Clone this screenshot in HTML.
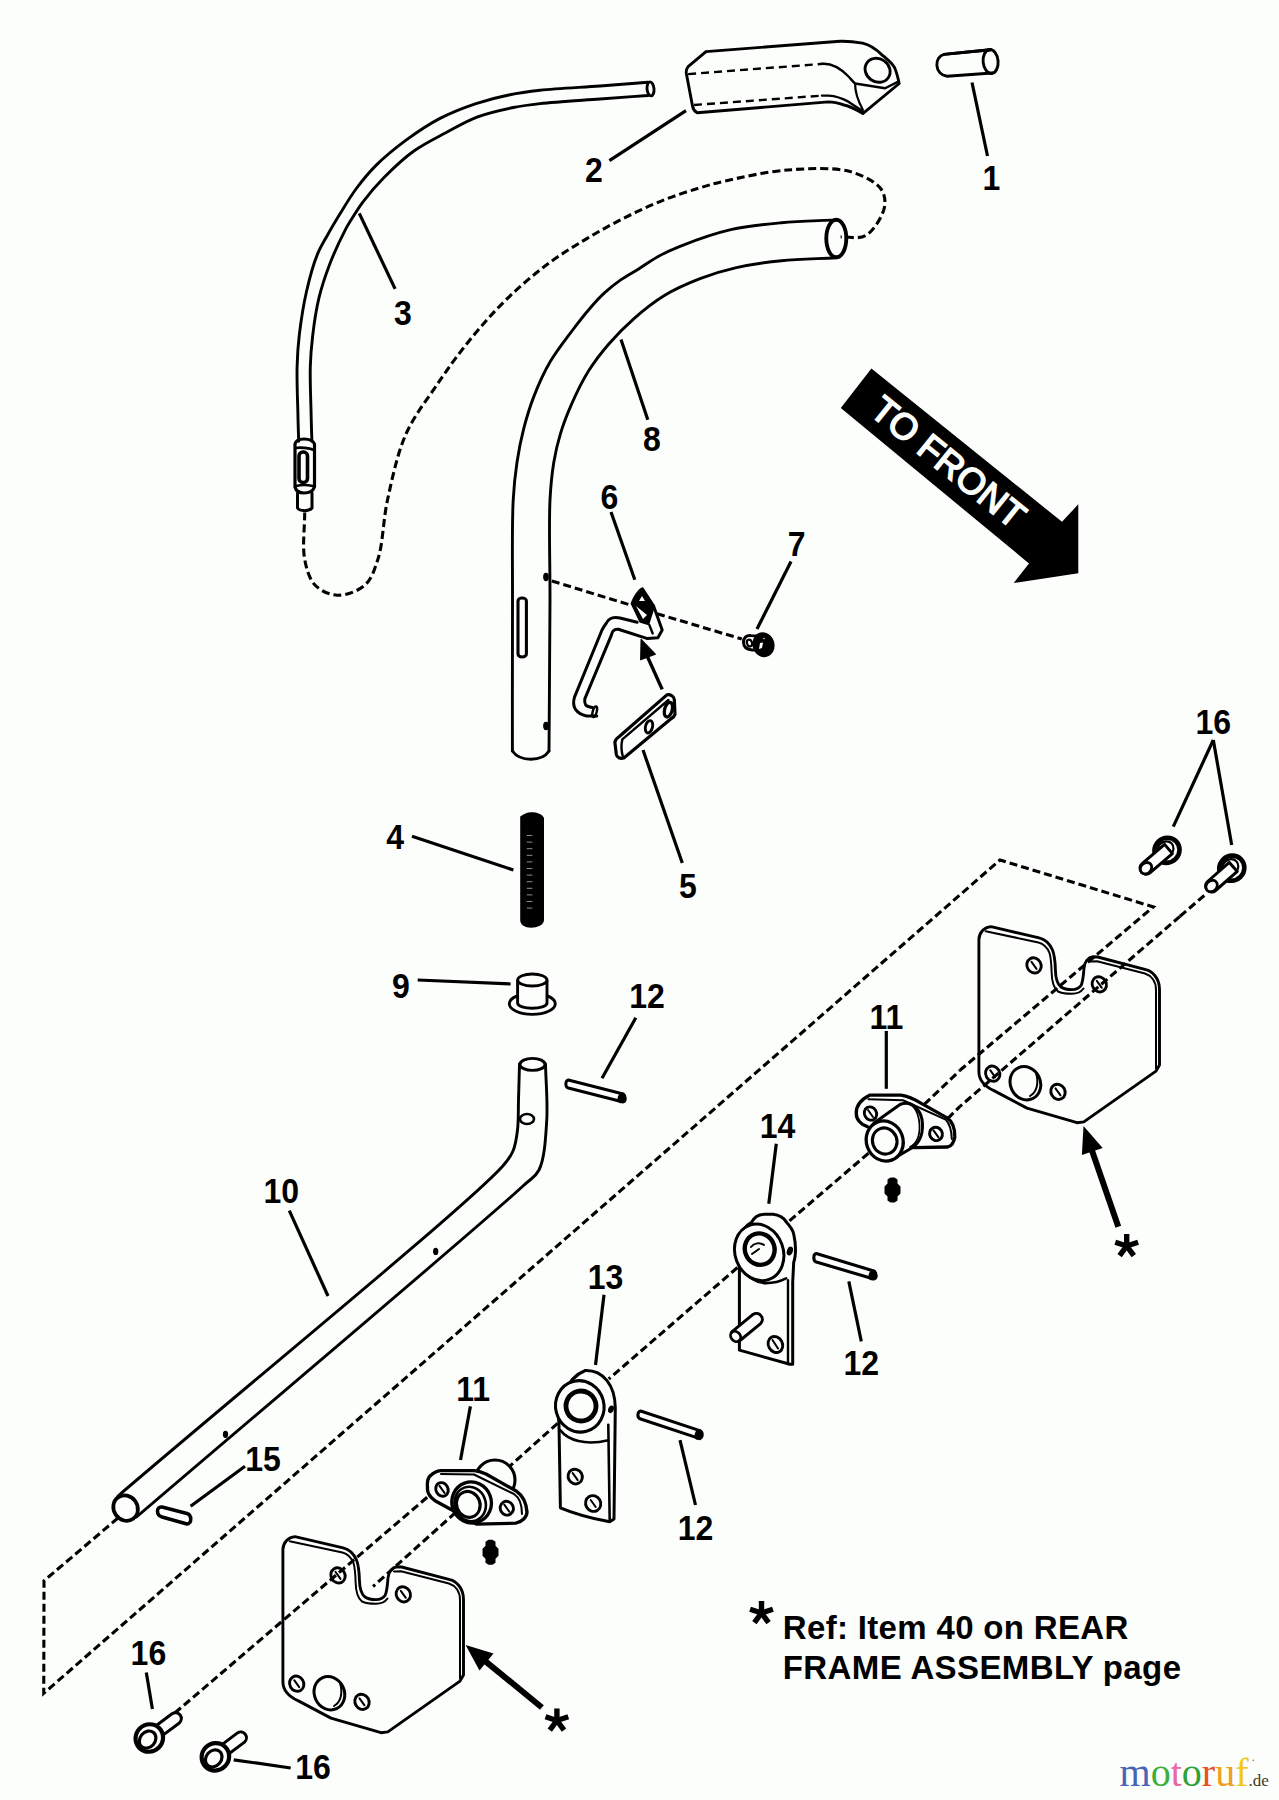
<!DOCTYPE html>
<html><head><meta charset="utf-8"><style>
html,body{margin:0;padding:0;background:#fcfefc;}
body{width:1279px;height:1800px;overflow:hidden;}
svg{display:block;font-family:"Liberation Sans",sans-serif;}
</style></head><body>
<svg width="1279" height="1800" viewBox="0 0 1279 1800">
<text x="0" y="0" font-size="32" text-anchor="middle" font-weight="bold" transform="translate(991.3 190) scale(1 1.09)">1</text>
<text x="0" y="0" font-size="32" text-anchor="middle" font-weight="bold" transform="translate(594 182.2) scale(1 1.09)">2</text>
<text x="0" y="0" font-size="32" text-anchor="middle" font-weight="bold" transform="translate(402.9 324.7) scale(1 1.09)">3</text>
<text x="0" y="0" font-size="32" text-anchor="middle" font-weight="bold" transform="translate(395.2 848.8) scale(1 1.09)">4</text>
<text x="0" y="0" font-size="32" text-anchor="middle" font-weight="bold" transform="translate(688 898) scale(1 1.09)">5</text>
<text x="0" y="0" font-size="32" text-anchor="middle" font-weight="bold" transform="translate(609.5 509.2) scale(1 1.09)">6</text>
<text x="0" y="0" font-size="32" text-anchor="middle" font-weight="bold" transform="translate(796.6 555.5) scale(1 1.09)">7</text>
<text x="0" y="0" font-size="32" text-anchor="middle" font-weight="bold" transform="translate(652 450.5) scale(1 1.09)">8</text>
<text x="0" y="0" font-size="32" text-anchor="middle" font-weight="bold" transform="translate(400.8 998) scale(1 1.09)">9</text>
<text x="0" y="0" font-size="32" text-anchor="middle" font-weight="bold" transform="translate(281.2 1202.9) scale(1 1.09)">10</text>
<text x="0" y="0" font-size="32" text-anchor="middle" font-weight="bold" transform="translate(886.3 1028.8) scale(1 1.09)">11</text>
<text x="0" y="0" font-size="32" text-anchor="middle" font-weight="bold" transform="translate(473.2 1400.5) scale(1 1.09)">11</text>
<text x="0" y="0" font-size="32" text-anchor="middle" font-weight="bold" transform="translate(647 1007.8) scale(1 1.09)">12</text>
<text x="0" y="0" font-size="32" text-anchor="middle" font-weight="bold" transform="translate(861.3 1375) scale(1 1.09)">12</text>
<text x="0" y="0" font-size="32" text-anchor="middle" font-weight="bold" transform="translate(695.5 1540) scale(1 1.09)">12</text>
<text x="0" y="0" font-size="32" text-anchor="middle" font-weight="bold" transform="translate(605.6 1288.8) scale(1 1.09)">13</text>
<text x="0" y="0" font-size="32" text-anchor="middle" font-weight="bold" transform="translate(777.5 1137.5) scale(1 1.09)">14</text>
<text x="0" y="0" font-size="32" text-anchor="middle" font-weight="bold" transform="translate(263 1471.2) scale(1 1.09)">15</text>
<text x="0" y="0" font-size="32" text-anchor="middle" font-weight="bold" transform="translate(1213.3 734.2) scale(1 1.09)">16</text>
<text x="0" y="0" font-size="32" text-anchor="middle" font-weight="bold" transform="translate(148.4 1664.5) scale(1 1.09)">16</text>
<text x="0" y="0" font-size="32" text-anchor="middle" font-weight="bold" transform="translate(313 1778.5) scale(1 1.09)">16</text>
<line x1="972" y1="82.5" x2="987.5" y2="156" stroke="#000" stroke-width="3.2" stroke-linecap="butt"/>
<line x1="686" y1="110.6" x2="609.4" y2="160.6" stroke="#000" stroke-width="3.2" stroke-linecap="butt"/>
<line x1="359.3" y1="213.4" x2="395.1" y2="288.9" stroke="#000" stroke-width="3.2" stroke-linecap="butt"/>
<line x1="412" y1="836.3" x2="513.4" y2="870" stroke="#000" stroke-width="3.2" stroke-linecap="butt"/>
<line x1="643" y1="750" x2="682.3" y2="863" stroke="#000" stroke-width="3.2" stroke-linecap="butt"/>
<line x1="611" y1="512" x2="634.8" y2="579.8" stroke="#000" stroke-width="3.2" stroke-linecap="butt"/>
<line x1="757" y1="629" x2="791" y2="561.5" stroke="#000" stroke-width="3.2" stroke-linecap="butt"/>
<line x1="621" y1="339.5" x2="647.8" y2="419.7" stroke="#000" stroke-width="3.2" stroke-linecap="butt"/>
<line x1="417.7" y1="980" x2="510.6" y2="984" stroke="#000" stroke-width="3.2" stroke-linecap="butt"/>
<line x1="289.3" y1="1210.7" x2="328" y2="1296" stroke="#000" stroke-width="3.2" stroke-linecap="butt"/>
<line x1="886.3" y1="1031" x2="886.3" y2="1088.8" stroke="#000" stroke-width="3.2" stroke-linecap="butt"/>
<line x1="470.4" y1="1406.4" x2="460.5" y2="1460" stroke="#000" stroke-width="3.2" stroke-linecap="butt"/>
<line x1="635.8" y1="1017.8" x2="602" y2="1078.3" stroke="#000" stroke-width="3.2" stroke-linecap="butt"/>
<line x1="848.8" y1="1281.3" x2="861.3" y2="1341.3" stroke="#000" stroke-width="3.2" stroke-linecap="butt"/>
<line x1="680" y1="1440.2" x2="695.5" y2="1505" stroke="#000" stroke-width="3.2" stroke-linecap="butt"/>
<line x1="604" y1="1294.7" x2="595.5" y2="1365" stroke="#000" stroke-width="3.2" stroke-linecap="butt"/>
<line x1="776.3" y1="1143.8" x2="768.8" y2="1203.8" stroke="#000" stroke-width="3.2" stroke-linecap="butt"/>
<line x1="245" y1="1466.3" x2="190.6" y2="1506.3" stroke="#000" stroke-width="3.2" stroke-linecap="butt"/>
<line x1="1213.3" y1="740" x2="1173.3" y2="826.7" stroke="#000" stroke-width="3.2" stroke-linecap="butt"/>
<line x1="1213.3" y1="740" x2="1231.7" y2="845" stroke="#000" stroke-width="3.2" stroke-linecap="butt"/>
<line x1="146.3" y1="1672.4" x2="152.4" y2="1709" stroke="#000" stroke-width="3.2" stroke-linecap="butt"/>
<line x1="233.7" y1="1759.8" x2="290.7" y2="1768" stroke="#000" stroke-width="3.2" stroke-linecap="butt"/>
<path d="M944,54.4 C959.5,52.8 975.1,51.3 990.6,49.7" fill="none" stroke="#000" stroke-width="2.9" stroke-linejoin="round" stroke-linecap="round" />
<path d="M944,54.4 L990.6,49.7 M947,76.3 L992,73 M944,54.4 C934,57 934,74 947,76.3" fill="none" stroke="#000" stroke-width="2.9" stroke-linejoin="round" stroke-linecap="round" />
<ellipse cx="990.6" cy="61.5" rx="7.5" ry="12" transform="rotate(-5 990.6 61.5)" fill="none" stroke="#000" stroke-width="2.9"/>
<path d="M706,51.6 L840.1,41.3 C850,41 856,42 862.6,43.1 C870,45 876,49 881.4,54.4 C888,60 892,63 894.5,67.5 C897,73 898,78 899.2,83.5 L862.8,113.6 C857,110 850,106 844,105 C838,103 834,102 828.4,101.9 L697.2,112.8 C694,111 693,109 692.5,106 L686.3,73.2 C686,70 687,68 688.1,66.6 Z" fill="none" stroke="#000" stroke-width="2.9" stroke-linejoin="round" stroke-linecap="round" />
<path d="M688.1,74.1 L823.2,63.8" fill="none" stroke="#000" stroke-width="2.4" stroke-dasharray="8 5"/>
<path d="M823.2,63.8 C832,63.5 840,68 848,76 C851,79 853,82 855.1,83.5 L885.1,88.2 L898.3,81.6" fill="none" stroke="#000" stroke-width="2.4" stroke-linejoin="round" stroke-linecap="round" />
<path d="M694,105 L822,95.6" fill="none" stroke="#000" stroke-width="2.4" stroke-dasharray="8 5"/>
<path d="M822,95.6 L828.4,95.6 C836,96 842,98 848.75,101.9 L862.8,111.25" fill="none" stroke="#000" stroke-width="2.4" stroke-linejoin="round" stroke-linecap="round" />
<path d="M855.1,83.5 C855,90 856,97 862.8,109.7" fill="none" stroke="#000" stroke-width="2.2" stroke-linejoin="round" stroke-linecap="round" />
<ellipse cx="877.6" cy="70.3" rx="13" ry="11.5" transform="rotate(35 877.6 70.3)" fill="none" stroke="#000" stroke-width="2.9"/>
<path d="M648,82.2 C632,83.5 616.9,84.7 600,86 C581.1,87.4 556.7,88.4 540,90.3 C527.9,91.6 519.3,92.8 508.8,95 C497.9,97.2 487.1,99.9 476,103.6 C464.1,107.6 451.6,112.4 440,118.4 C428.1,124.6 416.5,132.5 405.7,140.4 C395.2,148.2 384.6,156.8 376,165.4 C368.3,173.1 362.1,180.8 356,189 C350.1,197 345,205.7 340,213.8 C335.4,221.4 330.9,228.9 327,236 C323.4,242.4 320.3,247.2 317.3,254.6 C313.2,264.7 309.3,279.1 306.4,292 C303.3,305.5 301,320.9 299.4,334 C298,345.5 297.4,354.8 297.1,366.6 C296.7,380.8 297.6,399.7 297.9,413.3 C298.1,423.8 298.4,432 298.7,441.3" fill="none" stroke="#000" stroke-width="2.9" stroke-linejoin="round" stroke-linecap="round" />
<path d="M648,95.5 C632,96.7 616.9,97.7 600,99 C581.1,100.4 556,101.8 540,103.6 C529.3,104.8 522.9,105.6 513.4,107.5 C502.3,109.8 488.9,112.6 477.6,116.9 C466.6,121 456.8,126.9 446.3,132.5 C435.4,138.3 423.8,143.9 413.5,151.3 C402.9,158.9 392.5,169 383.8,177.8 C376.1,185.6 369.2,193.7 363.4,201.3 C358.5,207.7 354.3,214.7 351,220 C348.7,223.8 347.5,225.5 345.3,229.8 C341.2,237.7 334.2,252.5 329.8,264 C325.5,275.3 321.7,286.4 318.9,298.2 C316,310.3 314.1,323.6 312.7,335.5 C311.4,346.3 310.6,355.2 310.3,366.6 C309.9,380.6 310.8,399.7 311.1,413.3 C311.3,423.8 311.6,432 311.9,441.3" fill="none" stroke="#000" stroke-width="2.9" stroke-linejoin="round" stroke-linecap="round" />
<ellipse cx="650.5" cy="88.9" rx="3.5" ry="7" transform="rotate(-5 650.5 88.9)" fill="none" stroke="#000" stroke-width="2.9"/>
<path d="M295,444 C296,440 300,439 304,439 C309,439 313,440 314.5,444 L314.5,487 C313,491 309,493 304,493 C299,493 296,491 295,487 Z" fill="none" stroke="#000" stroke-width="3.2" stroke-linejoin="round" stroke-linecap="round" />
<path d="M295.5,448 C300,447 309,448 314,450 M296,486 C300,485 308,485 313,486" fill="none" stroke="#000" stroke-width="2.6" stroke-linejoin="round" stroke-linecap="round" />
<rect x="299" y="452" width="8.5" height="30.5" rx="4" fill="none" stroke="#000" stroke-width="3.6"/>
<path d="M297.5,493 L297.5,508 C300,511.5 309,511.5 312,508 L312,493" fill="none" stroke="#000" stroke-width="3" stroke-linejoin="round" stroke-linecap="round" />
<path d="M304.7,512.5 C304.7,528.1 302.2,546.3 304.7,559.4 C306.6,569.4 309.3,579 315,585 C320.4,590.7 329.6,595 337.5,595.3 C346.1,595.6 358.2,591.1 365,585 C371.7,579 374.5,569.7 378,559 C383,543.6 383.1,520.1 387.5,500 C392.2,478.5 397.2,453.9 406,434 C414.2,415.5 428.2,397.9 437.5,384 C444.3,373.8 449.3,366.8 455.9,357.9 C463.1,348.3 470.9,338.4 479.3,328.6 C488.3,318.2 497.8,307.6 508.6,297.3 C520.4,286 534.3,274 547.7,264 C560.4,254.5 573.6,246.5 586.8,238.6 C599.7,230.9 612.7,223.7 625.9,217.1 C638.8,210.7 652.2,204.5 665,199.5 C676.9,194.9 689.3,191 700,187.8 C709,185.1 714.7,183.3 725,181 C741.1,177.4 766.6,171.6 787.5,170 C808.3,168.5 833.2,167 850,171.6 C862.6,175.1 875.7,181.6 881,189 C884.8,194.3 885.7,201 884.4,207.5 C882.6,216.2 873.7,231 865.6,235.6 C858.6,239.6 848.9,236.5 840.6,237" fill="none" stroke="#000" stroke-width="3.1" stroke-dasharray="8 4"/>
<path d="M512.4,751 C512.4,700.7 512.3,645.2 512.5,600 C512.6,563.2 511.8,525.4 513.2,500 C514,484.4 515.2,474.3 517,462.2 C518.7,450.8 520.8,440.1 523.6,429.2 C526.4,418.1 529.7,407.1 534,396.1 C538.5,384.7 543.6,373 550,362.1 C556.5,350.9 565.5,339.6 572.7,330 C578.8,321.9 584.5,314.6 590.2,308 C595.2,302.2 599.8,297.1 605,292.4 C610,287.8 615.2,283.8 620.7,279.9 C626.4,275.9 632.5,272.7 638.6,268.9 C645,264.9 651.4,260.1 658.2,256.4 C665.2,252.6 671.1,249.8 680,246.3 C693.3,241.1 713.7,233.6 730.8,229.7 C747.5,225.8 764.3,224.3 781.5,222.7 C799.3,221 817.8,220.8 836,219.9" fill="none" stroke="#000" stroke-width="2.9" stroke-linejoin="round" stroke-linecap="round" />
<path d="M549,751 C549.3,700.7 549.9,645.2 550,600 C550.1,563.2 548.7,525.4 550,500 C550.8,484.4 551.9,473.8 553.8,462.2 C555.5,452 557.5,443.4 560.4,433.9 C563.4,423.9 567.3,413.9 571.8,403.7 C576.6,392.8 582.4,380.8 588.8,370.6 C594.8,361 601.3,352.7 608.6,344.2 C616.2,335.4 624.6,326.8 633.7,318.8 C643.1,310.5 653.4,302.2 664.4,295.5 C675.5,288.8 687.9,283.4 700,278.7 C711.9,274.1 723.5,270.6 736.4,267.7 C750.5,264.5 765.7,262.3 781.5,260.7 C798.8,258.9 817.8,258.8 836,257.8" fill="none" stroke="#000" stroke-width="2.9" stroke-linejoin="round" stroke-linecap="round" />
<path d="M512.4,751 C520,762 542,762 549,751" fill="none" stroke="#000" stroke-width="2.9" stroke-linejoin="round" stroke-linecap="round" />
<ellipse cx="836.3" cy="238.5" rx="10" ry="18.8" transform="rotate(0 836.3 238.5)" fill="none" stroke="#000" stroke-width="3.86"/>
<path d="M518,601 C518,597 526.4,597 526.4,601 L526.4,654 C526.4,658 518,658 518,654 Z" fill="none" stroke="#000" stroke-width="3.08" stroke-linejoin="round" stroke-linecap="round" />
<ellipse cx="546" cy="577" rx="2.2" ry="3.5" transform="rotate(0 546 577)" fill="#000" stroke="#000" stroke-width="1.29"/>
<ellipse cx="546" cy="726" rx="2.2" ry="3.5" transform="rotate(0 546 726)" fill="#000" stroke="#000" stroke-width="1.29"/>
<path d="M551.8,581 L630.3,605 M657,613.7 L741.8,639" fill="none" stroke="#000" stroke-width="3.1" stroke-dasharray="8 4"/>
<path d="M637.2,622.3 L620,618 C613,616.5 608,619 606.3,623.2 C604,626 603,628 602,630 L574.5,697.1 C573,702 573.5,706 575.3,709.1 C578,713 582,715 586.5,716 L596.8,716 M592.5,707.4 C589,707 586.5,706.5 585.6,704.8 C584.5,703 584.5,701 584.8,698.8 L611.4,635.2 C612,633 612.5,631.5 613.2,630.9 C614.5,629.5 616,629 618.3,629.2 L647.5,638.6 L657.9,637.8 L662.2,630 L653.6,606" fill="none" stroke="#000" stroke-width="3" stroke-linejoin="round" stroke-linecap="round" />
<ellipse cx="594.7" cy="711.7" rx="2" ry="5.5" transform="rotate(15 594.7 711.7)" fill="none" stroke="#000" stroke-width="2.4"/>
<path d="M642.4,588.8 C639,590 634,598 632.1,603.4 L640.7,621.4 L648,623.5 L653.6,606 Z" fill="#000" stroke="#000" stroke-width="3" stroke-linejoin="round"/>
<path d="M642,596 L645,601 L639,601 Z M636,606 L643,619 L647,615 Z" fill="#fcfefc"/>
<path d="M649.3,624.9 L652.7,633.5" fill="none" stroke="#000" stroke-width="2.4" stroke-linejoin="round" stroke-linecap="round" />
<line x1="662.2" y1="689.4" x2="646.7" y2="655" stroke="#000" stroke-width="3.4" stroke-linecap="butt"/>
<path d="M641.1,639.5 L640.7,659.7 L655.3,654.1 Z" fill="#000" stroke="#000" stroke-width="1.2" stroke-linejoin="round"/>
<path d="M751,635.5 C746,635 743.5,638 743.5,642 C743.5,647 747,649.5 752,650 L758,650 L758,636 Z" fill="#fcfefc" stroke="#000" stroke-width="3" stroke-linejoin="round"/>
<ellipse cx="749.5" cy="643" rx="2.5" ry="3.5" transform="rotate(-20 749.5 643)" fill="none" stroke="#000" stroke-width="2.2"/>
<ellipse cx="763.5" cy="644.7" rx="10.2" ry="11.8" transform="rotate(-15 763.5 644.7)" fill="#000" stroke="#000" stroke-width="1.5"/>
<path d="M760,643 L763,642.5 L762,648 L759,649 Z" fill="#fcfefc"/>
<ellipse cx="764" cy="638.5" rx="1.2" ry="0.8" transform="rotate(0 764 638.5)" fill="#fcfefc" stroke="#000" stroke-width="0.5"/>
<path d="M619.3,736.5 L666.9,694.9 C670,694 674,696 674.3,699.3 L675,714.2 C674.5,716 673,717.5 671.3,718.6 L623.8,758 C620,759 617,757.5 616.3,754.3 L614.9,742.4 C615,740 617,738 619.3,736.5 Z" fill="none" stroke="#000" stroke-width="3.19" stroke-linejoin="round" stroke-linecap="round" />
<path d="M622.3,739.4 L668.4,700 M622.3,739.4 C621,745 621.5,752 623,757" fill="none" stroke="#000" stroke-width="2.42" stroke-linejoin="round" stroke-linecap="round" />
<ellipse cx="649" cy="726.8" rx="3.5" ry="6.3" transform="rotate(15 649 726.8)" fill="none" stroke="#000" stroke-width="2.86"/>
<ellipse cx="668.4" cy="709.7" rx="3.8" ry="7.5" transform="rotate(15 668.4 709.7)" fill="none" stroke="#000" stroke-width="3.3"/>
<path d="M520.2,816.6 C524,814 527,812.2 531,812.2 C537,812.2 542.5,814 544,818 L544,920 C544,925 537,927.7 531,927.7 C525,927.7 520.2,925 520.2,920 Z" fill="#000"/>
<line x1="526.7" y1="835.5" x2="532.4" y2="835.5" stroke="#fcfefc" stroke-width="0.7" stroke-opacity="0.8"/>
<line x1="526.7" y1="842.1" x2="532.4" y2="842.1" stroke="#fcfefc" stroke-width="0.7" stroke-opacity="0.8"/>
<line x1="526.7" y1="848.7" x2="532.4" y2="848.7" stroke="#fcfefc" stroke-width="0.7" stroke-opacity="0.8"/>
<line x1="526.7" y1="855.3" x2="532.4" y2="855.3" stroke="#fcfefc" stroke-width="0.7" stroke-opacity="0.8"/>
<line x1="526.7" y1="861.9" x2="532.4" y2="861.9" stroke="#fcfefc" stroke-width="0.7" stroke-opacity="0.8"/>
<line x1="526.7" y1="868.5" x2="532.4" y2="868.5" stroke="#fcfefc" stroke-width="0.7" stroke-opacity="0.8"/>
<line x1="526.7" y1="875.1" x2="532.4" y2="875.1" stroke="#fcfefc" stroke-width="0.7" stroke-opacity="0.8"/>
<line x1="526.7" y1="881.7" x2="532.4" y2="881.7" stroke="#fcfefc" stroke-width="0.7" stroke-opacity="0.8"/>
<line x1="526.7" y1="888.3" x2="532.4" y2="888.3" stroke="#fcfefc" stroke-width="0.7" stroke-opacity="0.8"/>
<line x1="526.7" y1="894.9" x2="532.4" y2="894.9" stroke="#fcfefc" stroke-width="0.7" stroke-opacity="0.8"/>
<line x1="526.7" y1="901.5" x2="532.4" y2="901.5" stroke="#fcfefc" stroke-width="0.7" stroke-opacity="0.8"/>
<line x1="526.7" y1="908.1" x2="532.4" y2="908.1" stroke="#fcfefc" stroke-width="0.7" stroke-opacity="0.8"/>
<ellipse cx="532.3" cy="1003.8" rx="23" ry="10.5" transform="rotate(0 532.3 1003.8)" fill="none" stroke="#000" stroke-width="2.83"/>
<path d="M517.6,980 L517.6,1003 C517.6,1010 547,1010 547,1003 L547,980" fill="#fcfefc" stroke="#000" stroke-width="2.9"/>
<ellipse cx="532.3" cy="980" rx="14.7" ry="6" transform="rotate(0 532.3 980)" fill="#fcfefc" stroke="#000" stroke-width="2.83"/>
<path d="M519.5,1064 C519.2,1076 518.8,1088.5 518.5,1100 C518.2,1110.5 518.6,1120.9 517.5,1130 C516.6,1137.7 515.6,1144.8 513,1151 C510.6,1156.7 509.5,1158.5 502.8,1166 C467.3,1205.7 246.3,1386 118,1496" fill="none" stroke="#000" stroke-width="2.9" stroke-linejoin="round" stroke-linecap="round" />
<path d="M545.5,1064 C545.9,1083 547.9,1102.8 546.7,1121 C545.6,1138 544.7,1158.7 539,1170 C535.1,1177.6 532.1,1177.5 523,1186 C479.7,1226.1 265.3,1406.7 136.5,1517" fill="none" stroke="#000" stroke-width="2.9" stroke-linejoin="round" stroke-linecap="round" />
<ellipse cx="532.5" cy="1064.4" rx="12.5" ry="6" transform="rotate(0 532.5 1064.4)" fill="none" stroke="#000" stroke-width="2.9"/>
<ellipse cx="125.6" cy="1508.1" rx="11.9" ry="13.1" transform="rotate(-35 125.6 1508.1)" fill="none" stroke="#000" stroke-width="3.74"/>
<ellipse cx="435.7" cy="1251.4" rx="2" ry="3" transform="rotate(0 435.7 1251.4)" fill="#000" stroke="#000" stroke-width="1.29"/>
<ellipse cx="225.5" cy="1434.3" rx="2" ry="3" transform="rotate(0 225.5 1434.3)" fill="#000" stroke="#000" stroke-width="1.29"/>
<ellipse cx="527" cy="1119" rx="7" ry="5" transform="rotate(0 527 1119)" fill="none" stroke="#000" stroke-width="2.57"/>
<path d="M568.3,1080 L623.2,1094 C626,1096 626,1101 623.2,1102 L568.3,1088 C565,1087 565,1081 568.3,1080 Z" fill="none" stroke="#000" stroke-width="2.9" stroke-linejoin="round" stroke-linecap="round" />
<path d="M162,1507 L187,1513.5 C192,1515 192,1524 187,1524 L162,1517 C156,1515.5 156,1506 162,1507 Z" fill="none" stroke="#000" stroke-width="3.52" stroke-linejoin="round" stroke-linecap="round" />
<path d="M118,1518 L44,1580.8 L43.75,1693.3 L1000,860 L1153.3,906.9 L960,1070.3" fill="none" stroke="#000" stroke-width="3.1" stroke-dasharray="8 4"/>
<path d="M1180,916.3 L1206,894" fill="none" stroke="#000" stroke-width="3.1" stroke-dasharray="8 4"/>
<path d="M1180,916.3 L960,1106.4" fill="none" stroke="#000" stroke-width="3.1" stroke-dasharray="8 4"/>
<path d="M924.3,1104.4 L960,1070.3" fill="none" stroke="#000" stroke-width="3.1" stroke-dasharray="8 4"/>
<path d="M947.7,1118.6 L960,1106.4" fill="none" stroke="#000" stroke-width="3.1" stroke-dasharray="8 4"/>
<path d="M868.5,1153.2 L787.5,1222.5" fill="none" stroke="#000" stroke-width="3.1" stroke-dasharray="8 4"/>
<path d="M737.5,1267.5 L608.75,1379" fill="none" stroke="#000" stroke-width="3.1" stroke-dasharray="8 4"/>
<path d="M557.6,1423.3 L509,1466.9" fill="none" stroke="#000" stroke-width="3.1" stroke-dasharray="8 4"/>
<path d="M455.6,1512.5 L373,1586.5" fill="none" stroke="#000" stroke-width="3.1" stroke-dasharray="8 4"/>
<path d="M174.8,1713 L427.5,1497" fill="none" stroke="#000" stroke-width="3.1" stroke-dasharray="8 4"/>
<path d="M871.4,368.6 L840.8,408 L1029,563.4 L1013.7,583 L1078.3,573.3 L1078.3,504.3 L1062,521.8 Z" fill="#000"/>
<text x="0" y="0" font-size="36.5" fill="#fcfefc" text-anchor="middle" stroke="#fcfefc" stroke-width="1.6" transform="translate(940.5,472) rotate(38.9)">TO FRONT</text>
<text x="782.8" y="1638.8" font-size="33" letter-spacing="0.33" font-weight="bold">Ref: Item 40 on REAR</text>
<text x="782.8" y="1679" font-size="33" letter-spacing="0.39" font-weight="bold">FRAME ASSEMBLY page</text>
<text x="1119.6" y="1785.5" font-size="40" font-family="Liberation Serif"><tspan fill="#4a64b4">m</tspan><tspan fill="#3cae3c">o</tspan><tspan fill="#e868a8">t</tspan><tspan fill="#2ea23a">o</tspan><tspan fill="#e8501e">r</tspan><tspan fill="#f0a020">u</tspan><tspan fill="#f2c81e">f</tspan><tspan fill="#3a3a2a" font-size="17">.de</tspan></text>
<circle cx="1253.3" cy="1760.3" r="0.9" fill="#888"/>
<g transform="translate(0 0)">
<path d="M991,926.7 L1039.1,937.8 C1046,939.5 1050,944 1052.5,950 C1054.5,955 1055.2,962 1055.4,970 C1055.6,978 1057,984 1061,987 C1064,989 1068,989.6 1072,989.6 C1076,989.6 1079,988.5 1081,985.5 C1083,982 1083.5,975 1084,968 C1084.5,962 1088,957.5 1093,956.8 L1097.6,957 L1145.8,969.7 C1152,971 1159.5,978 1159.5,989.4 L1159.5,1065 L1156,1071.1 L1083.8,1121.9 L1077,1122.7 L1027,1108.1 L994.4,1090.9 C988,1088 979,1082 978.9,1072 L978.9,939.6 C979,933 984,927 991,926.7 Z" fill="none" stroke="#000" stroke-width="2.9" stroke-linejoin="round" stroke-linecap="round" />
<path d="M985.6,931.2 L1038.4,942.5 C1044,944 1047.5,948 1049.5,953 C1051,958 1051.4,965 1051.6,972 C1051.8,981 1053.5,988 1058,991.5 C1062,993.5 1067,993.8 1072,993.8 C1077,993.8 1081,992 1083.5,988.5 M1090,961.5 L1097,961.3 L1145,973.5 C1151,975.5 1156,981 1156,990 L1156,1068.5" fill="none" stroke="#000" stroke-width="2" stroke-linejoin="round" stroke-linecap="round" />
<ellipse cx="1034" cy="965.4" rx="7" ry="7.8" transform="rotate(-30 1034 965.4)" fill="none" stroke="#000" stroke-width="2.9"/>
<path d="M1031.5,961.9 L1036.5,968.9" fill="none" stroke="#000" stroke-width="2" stroke-linejoin="round" stroke-linecap="round" />
<ellipse cx="1099.3" cy="984.3" rx="7" ry="7.8" transform="rotate(-30 1099.3 984.3)" fill="none" stroke="#000" stroke-width="2.9"/>
<path d="M1096.8,980.8 L1101.8,987.8" fill="none" stroke="#000" stroke-width="2" stroke-linejoin="round" stroke-linecap="round" />
<ellipse cx="992.7" cy="1073.7" rx="7" ry="7.8" transform="rotate(-30 992.7 1073.7)" fill="none" stroke="#000" stroke-width="2.9"/>
<path d="M990.2,1070.2 L995.2,1077.2" fill="none" stroke="#000" stroke-width="2" stroke-linejoin="round" stroke-linecap="round" />
<ellipse cx="1058" cy="1091.8" rx="7" ry="7.8" transform="rotate(-30 1058 1091.8)" fill="none" stroke="#000" stroke-width="2.9"/>
<path d="M1055.5,1088.3 L1060.5,1095.3" fill="none" stroke="#000" stroke-width="2" stroke-linejoin="round" stroke-linecap="round" />
<ellipse cx="1025.4" cy="1083.2" rx="15" ry="17" transform="rotate(-25 1025.4 1083.2)" fill="none" stroke="#000" stroke-width="3"/>
<path d="M1036,1073 C1039,1083 1037,1092 1030,1096" fill="none" stroke="#000" stroke-width="2" stroke-linejoin="round" stroke-linecap="round" />
</g>
<g transform="translate(-696 610)">
<path d="M991,926.7 L1039.1,937.8 C1046,939.5 1050,944 1052.5,950 C1054.5,955 1055.2,962 1055.4,970 C1055.6,978 1057,984 1061,987 C1064,989 1068,989.6 1072,989.6 C1076,989.6 1079,988.5 1081,985.5 C1083,982 1083.5,975 1084,968 C1084.5,962 1088,957.5 1093,956.8 L1097.6,957 L1145.8,969.7 C1152,971 1159.5,978 1159.5,989.4 L1159.5,1065 L1156,1071.1 L1083.8,1121.9 L1077,1122.7 L1027,1108.1 L994.4,1090.9 C988,1088 979,1082 978.9,1072 L978.9,939.6 C979,933 984,927 991,926.7 Z" fill="none" stroke="#000" stroke-width="2.9" stroke-linejoin="round" stroke-linecap="round" />
<path d="M985.6,931.2 L1038.4,942.5 C1044,944 1047.5,948 1049.5,953 C1051,958 1051.4,965 1051.6,972 C1051.8,981 1053.5,988 1058,991.5 C1062,993.5 1067,993.8 1072,993.8 C1077,993.8 1081,992 1083.5,988.5 M1090,961.5 L1097,961.3 L1145,973.5 C1151,975.5 1156,981 1156,990 L1156,1068.5" fill="none" stroke="#000" stroke-width="2" stroke-linejoin="round" stroke-linecap="round" />
<ellipse cx="1034" cy="965.4" rx="7" ry="7.8" transform="rotate(-30 1034 965.4)" fill="none" stroke="#000" stroke-width="2.9"/>
<path d="M1031.5,961.9 L1036.5,968.9" fill="none" stroke="#000" stroke-width="2" stroke-linejoin="round" stroke-linecap="round" />
<ellipse cx="1099.3" cy="984.3" rx="7" ry="7.8" transform="rotate(-30 1099.3 984.3)" fill="none" stroke="#000" stroke-width="2.9"/>
<path d="M1096.8,980.8 L1101.8,987.8" fill="none" stroke="#000" stroke-width="2" stroke-linejoin="round" stroke-linecap="round" />
<ellipse cx="992.7" cy="1073.7" rx="7" ry="7.8" transform="rotate(-30 992.7 1073.7)" fill="none" stroke="#000" stroke-width="2.9"/>
<path d="M990.2,1070.2 L995.2,1077.2" fill="none" stroke="#000" stroke-width="2" stroke-linejoin="round" stroke-linecap="round" />
<ellipse cx="1058" cy="1091.8" rx="7" ry="7.8" transform="rotate(-30 1058 1091.8)" fill="none" stroke="#000" stroke-width="2.9"/>
<path d="M1055.5,1088.3 L1060.5,1095.3" fill="none" stroke="#000" stroke-width="2" stroke-linejoin="round" stroke-linecap="round" />
<ellipse cx="1025.4" cy="1083.2" rx="15" ry="17" transform="rotate(-25 1025.4 1083.2)" fill="none" stroke="#000" stroke-width="3"/>
<path d="M1036,1073 C1039,1083 1037,1092 1030,1096" fill="none" stroke="#000" stroke-width="2" stroke-linejoin="round" stroke-linecap="round" />
</g>
<line x1="541.9" y1="1707.5" x2="483.4" y2="1659.6" stroke="#000" stroke-width="6"/>
<path d="M465.6,1645 L493.5,1653.6 L479.5,1670.6 Z" fill="#000"/>
<line x1="1118.3" y1="1226.7" x2="1091" y2="1147.7" stroke="#000" stroke-width="6"/>
<path d="M1083.5,1126 L1102.7,1147.9 L1081.9,1155.1 Z" fill="#000"/>
<line x1="556.9" y1="1720.5" x2="556.9" y2="1708.5" stroke="#000" stroke-width="5.4"/>
<line x1="556.9" y1="1720.5" x2="568.3" y2="1716.8" stroke="#000" stroke-width="5.4"/>
<line x1="556.9" y1="1720.5" x2="564" y2="1730.2" stroke="#000" stroke-width="5.4"/>
<line x1="556.9" y1="1720.5" x2="549.8" y2="1730.2" stroke="#000" stroke-width="5.4"/>
<line x1="556.9" y1="1720.5" x2="545.5" y2="1716.8" stroke="#000" stroke-width="5.4"/>
<line x1="1126.7" y1="1246" x2="1126.7" y2="1234" stroke="#000" stroke-width="5.4"/>
<line x1="1126.7" y1="1246" x2="1138.1" y2="1242.3" stroke="#000" stroke-width="5.4"/>
<line x1="1126.7" y1="1246" x2="1133.8" y2="1255.7" stroke="#000" stroke-width="5.4"/>
<line x1="1126.7" y1="1246" x2="1119.6" y2="1255.7" stroke="#000" stroke-width="5.4"/>
<line x1="1126.7" y1="1246" x2="1115.3" y2="1242.3" stroke="#000" stroke-width="5.4"/>
<line x1="761.5" y1="1613" x2="761.5" y2="1601" stroke="#000" stroke-width="5.4"/>
<line x1="761.5" y1="1613" x2="772.9" y2="1609.3" stroke="#000" stroke-width="5.4"/>
<line x1="761.5" y1="1613" x2="768.6" y2="1622.7" stroke="#000" stroke-width="5.4"/>
<line x1="761.5" y1="1613" x2="754.4" y2="1622.7" stroke="#000" stroke-width="5.4"/>
<line x1="761.5" y1="1613" x2="750.1" y2="1609.3" stroke="#000" stroke-width="5.4"/>
<path d="M150.7,1729.8 L172,1713.8 A5.8,5.8 0 0 1 179,1723.2 L157.6,1739.1 Z" fill="#fcfefc" stroke="#000" stroke-width="3" stroke-linejoin="round"/>
<ellipse cx="149.3" cy="1738" rx="13.5" ry="14" transform="rotate(45 149.3 1738)" fill="#fcfefc" stroke="#000" stroke-width="4.2"/>
<ellipse cx="147.6" cy="1739.6" rx="7.6" ry="9.2" transform="rotate(40 147.6 1739.6)" fill="none" stroke="#000" stroke-width="3.2"/>
<path d="M216.7,1748.6 L237.5,1732.9 A5.8,5.8 0 0 1 244.5,1742.1 L223.7,1757.8 Z" fill="#fcfefc" stroke="#000" stroke-width="3" stroke-linejoin="round"/>
<ellipse cx="215.4" cy="1756.8" rx="13.5" ry="14" transform="rotate(45 215.4 1756.8)" fill="#fcfefc" stroke="#000" stroke-width="4.2"/>
<ellipse cx="213.7" cy="1758.4" rx="7.6" ry="9.2" transform="rotate(40 213.7 1758.4)" fill="none" stroke="#000" stroke-width="3.2"/>
<ellipse cx="1167" cy="850.3" rx="12.3" ry="12.8" transform="rotate(45 1167 850.3)" fill="#fcfefc" stroke="#000" stroke-width="4.6"/>
<ellipse cx="1165.5" cy="849.3" rx="7.5" ry="8.5" transform="rotate(45 1165.5 849.3)" fill="none" stroke="#000" stroke-width="2.2"/>
<path d="M1172.4,853.6 L1149.9,872.8 A6,6 0 0 1 1142.1,863.6 L1164.6,844.4 Z" fill="#fcfefc" stroke="#000" stroke-width="3" stroke-linejoin="round"/>
<ellipse cx="1146" cy="868.2" rx="5.2" ry="6.2" transform="rotate(45 1146 868.2)" fill="#fcfefc" stroke="#000" stroke-width="2.8"/>
<ellipse cx="1231.8" cy="868.2" rx="12.3" ry="12.8" transform="rotate(45 1231.8 868.2)" fill="#fcfefc" stroke="#000" stroke-width="4.6"/>
<ellipse cx="1230.3" cy="867.2" rx="7.5" ry="8.5" transform="rotate(45 1230.3 867.2)" fill="none" stroke="#000" stroke-width="2.2"/>
<path d="M1237.3,871.4 L1215.6,890.5 A6,6 0 0 1 1207.6,881.5 L1229.3,862.4 Z" fill="#fcfefc" stroke="#000" stroke-width="3" stroke-linejoin="round"/>
<ellipse cx="1211.6" cy="886" rx="5.2" ry="6.2" transform="rotate(45 1211.6 886)" fill="#fcfefc" stroke="#000" stroke-width="2.8"/>
<path d="M887.5,1179.5 l3,-2 l4,0 l3,2 l0,4 l3,3 l0,7 l-3,3 l0,4 l-3,2 l-4,0 l-3,-2 l0,-4 l-3,-3 l0,-7 l3,-3 Z" fill="#000"/>
<path d="M485.5,1541.8 l3,-2 l4,0 l3,2 l0,4 l3,3 l0,7 l-3,3 l0,4 l-3,2 l-4,0 l-3,-2 l0,-4 l-3,-3 l0,-7 l3,-3 Z" fill="#000"/>
<path d="M869.5,1095.2 L901,1095.2 C906,1096 914,1099 921.3,1103.4 L946.7,1117.6 C952,1121 955,1128 954.8,1136.9 C954,1142 951,1146 947.7,1147 L914.2,1147.6 M867.4,1126.7 C861,1125 856,1119 856.3,1113.5 C856,1107 860,1100 869.5,1095.2" fill="none" stroke="#000" stroke-width="3.34" stroke-linejoin="round" stroke-linecap="round" />
<path d="M868.5,1099.3 L903,1100.3 L945.7,1119.6 C950,1124 951.5,1130 951.8,1139" fill="none" stroke="#000" stroke-width="2.06" stroke-linejoin="round" stroke-linecap="round" />
<ellipse cx="870.5" cy="1113.5" rx="6" ry="6.8" transform="rotate(-30 870.5 1113.5)" fill="none" stroke="#000" stroke-width="2.9"/>
<path d="M868.0,1110.0 L873.0,1117.0" fill="none" stroke="#000" stroke-width="2" stroke-linejoin="round" stroke-linecap="round" />
<ellipse cx="936" cy="1133.9" rx="6.3" ry="6.8" transform="rotate(-30 936 1133.9)" fill="none" stroke="#000" stroke-width="2.9"/>
<path d="M933.5,1130.4 L938.5,1137.4" fill="none" stroke="#000" stroke-width="2" stroke-linejoin="round" stroke-linecap="round" />
<path d="M874,1123 L900,1104.5 C912,1100 922,1110 922.5,1124 C923,1136 918,1145 910,1149 L893,1159 Z" fill="#fcfefc" stroke="#000" stroke-width="3" stroke-linejoin="round"/>
<path d="M905,1103 C915,1103 919,1115 919.5,1125 C920,1137 916,1144 910,1147" fill="none" stroke="#000" stroke-width="1.76" stroke-linejoin="round" stroke-linecap="round" />
<ellipse cx="884.7" cy="1141" rx="18.3" ry="20.3" transform="rotate(-20 884.7 1141)" fill="#fcfefc" stroke="#000" stroke-width="3.3"/>
<ellipse cx="884.7" cy="1141" rx="12.2" ry="13.2" transform="rotate(-20 884.7 1141)" fill="none" stroke="#000" stroke-width="3.08"/>
<ellipse cx="495" cy="1480" rx="20" ry="20" transform="rotate(0 495 1480)" fill="#fcfefc" stroke="#000" stroke-width="3.09"/>
<path d="M440.6,1470.6 L474.4,1470.6 C478,1471 482,1472 486,1474 L516.6,1491.3 C522,1495 526,1500 527,1512 C527,1517 522,1522 515.7,1523.2 L476.3,1524.1 L453.8,1511 L435,1500.7 C430,1497 427,1492 427.5,1487.5 C427,1482 428,1478 430,1476 C433,1473 436,1471 440.6,1470.6 Z" fill="#fcfefc" stroke="#000" stroke-width="3.34" stroke-linejoin="round" stroke-linecap="round" />
<path d="M441,1474 L474,1474.5 L514,1494 C520,1498 522,1505 522,1514" fill="none" stroke="#000" stroke-width="2.06" stroke-linejoin="round" stroke-linecap="round" />
<ellipse cx="442" cy="1489.4" rx="6" ry="7" transform="rotate(-30 442 1489.4)" fill="none" stroke="#000" stroke-width="2.9"/>
<path d="M439.5,1485.9 L444.5,1492.9" fill="none" stroke="#000" stroke-width="2" stroke-linejoin="round" stroke-linecap="round" />
<ellipse cx="506.8" cy="1508.2" rx="6.5" ry="7" transform="rotate(-30 506.8 1508.2)" fill="none" stroke="#000" stroke-width="2.9"/>
<path d="M504.3,1504.7 L509.3,1511.7" fill="none" stroke="#000" stroke-width="2" stroke-linejoin="round" stroke-linecap="round" />
<ellipse cx="471.6" cy="1502.5" rx="19.7" ry="20.6" transform="rotate(-20 471.6 1502.5)" fill="#fcfefc" stroke="#000" stroke-width="3.34"/>
<ellipse cx="470.2" cy="1504" rx="15.5" ry="17.4" transform="rotate(-20 470.2 1504)" fill="none" stroke="#000" stroke-width="2.57"/>
<ellipse cx="468.3" cy="1504.4" rx="11.7" ry="13.1" transform="rotate(-20 468.3 1504.4)" fill="none" stroke="#000" stroke-width="3.09"/>
<path d="M559,1424.7 C556,1405 566,1378 585.3,1370.5 C603,1370 615,1385 615.3,1407.8 L614,1519 L609.7,1521.8 C595,1519 575,1514 560.4,1507.8 Z" fill="#fcfefc" stroke="#000" stroke-width="3" stroke-linejoin="round"/>
<path d="M608.3,1424.7 L609.7,1520.4" fill="none" stroke="#000" stroke-width="2.57" stroke-linejoin="round" stroke-linecap="round" />
<path d="M560.4,1430.4 C568,1440 585,1446 608.3,1440.2" fill="none" stroke="#000" stroke-width="2.57" stroke-linejoin="round" stroke-linecap="round" />
<ellipse cx="579.8" cy="1406.4" rx="24.2" ry="25.8" transform="rotate(-15 579.8 1406.4)" fill="#fcfefc" stroke="#000" stroke-width="3.08"/>
<ellipse cx="581" cy="1406" rx="15" ry="15" transform="rotate(-15 581 1406)" fill="none" stroke="#000" stroke-width="4.84"/>
<ellipse cx="611" cy="1409.3" rx="1.8" ry="3" transform="rotate(20 611 1409.3)" fill="#000" stroke="#000" stroke-width="1.93"/>
<ellipse cx="575.2" cy="1476.6" rx="7" ry="7.5" transform="rotate(-30 575.2 1476.6)" fill="none" stroke="#000" stroke-width="2.9"/>
<path d="M572.7,1473.1 L577.7,1480.1" fill="none" stroke="#000" stroke-width="2" stroke-linejoin="round" stroke-linecap="round" />
<ellipse cx="593.2" cy="1503.5" rx="7.5" ry="8" transform="rotate(-30 593.2 1503.5)" fill="none" stroke="#000" stroke-width="2.9"/>
<path d="M590.7,1500.0 L595.7,1507.0" fill="none" stroke="#000" stroke-width="2" stroke-linejoin="round" stroke-linecap="round" />
<path d="M739.4,1265.2 C735,1250 740,1228 751.2,1222.7 C754,1218 757,1214.2 765,1214.2 L772.9,1214.2 C780,1215 784,1218 786.1,1221.7 C790,1226 793,1230 793.7,1234 C795,1240 795.5,1245 795.5,1249.1 C795.5,1255 795,1259 793.7,1262.3 L792.7,1282.2 L792.7,1364.3 L789.9,1364.3 L739.4,1350.1 Z" fill="#fcfefc" stroke="#000" stroke-width="3" stroke-linejoin="round"/>
<path d="M788,1280.3 L788,1364" fill="none" stroke="#000" stroke-width="2.4" stroke-linejoin="round" stroke-linecap="round" />
<path d="M740.5,1266 C748,1278 757,1283 765.3,1283.1 C774,1283.2 781,1281 786.1,1278.4" fill="none" stroke="#000" stroke-width="2.6" stroke-linejoin="round" stroke-linecap="round" />
<ellipse cx="759.2" cy="1252.4" rx="24.1" ry="28.8" transform="rotate(-20 759.2 1252.4)" fill="#fcfefc" stroke="#000" stroke-width="3"/>
<ellipse cx="759.7" cy="1249.1" rx="14.8" ry="15.8" transform="rotate(-20 759.7 1249.1)" fill="none" stroke="#000" stroke-width="4.4"/>
<path d="M751,1247 C754,1243 760,1242 764,1245 M752,1254 L759,1249" fill="none" stroke="#000" stroke-width="2" stroke-linejoin="round" stroke-linecap="round" />
<ellipse cx="789.9" cy="1251" rx="2.2" ry="3.8" transform="rotate(20 789.9 1251)" fill="#000" stroke="#000" stroke-width="1.5"/>
<ellipse cx="775.4" cy="1344.5" rx="7" ry="8.3" transform="rotate(-30 775.4 1344.5)" fill="none" stroke="#000" stroke-width="2.9"/>
<path d="M772.5,1340 L778,1348.5" fill="none" stroke="#000" stroke-width="2" stroke-linejoin="round" stroke-linecap="round" />
<path d="M731.8,1331.8 L753,1314.4 A6,6 0 0 1 760.6,1323.6 L739.4,1341 Z" fill="#fcfefc" stroke="#000" stroke-width="3" stroke-linejoin="round"/>
<ellipse cx="735.6" cy="1336.4" rx="4.6" ry="5.6" transform="rotate(-40 735.6 1336.4)" fill="#fcfefc" stroke="#000" stroke-width="2.8"/>
<path d="M816.3,1253.5 L873.8,1271 C877,1273 877,1278 873.8,1279 L816.3,1262 C813,1261 813,1254 816.3,1253.5 Z" fill="none" stroke="#000" stroke-width="3.09" stroke-linejoin="round" stroke-linecap="round" />
<path d="M640.6,1411 L699.8,1430.6 C703,1432 703,1437 699.8,1438.6 L640.6,1419 C637,1418 637,1412 640.6,1411 Z" fill="none" stroke="#000" stroke-width="3.09" stroke-linejoin="round" stroke-linecap="round" />
<ellipse cx="621.5" cy="1097.8" rx="2.5" ry="4.2" transform="rotate(20 621.5 1097.8)" fill="#000" stroke="#000" stroke-width="2.6"/>
<ellipse cx="872.5" cy="1275" rx="2.5" ry="4.2" transform="rotate(20 872.5 1275)" fill="#000" stroke="#000" stroke-width="2.6"/>
<ellipse cx="698.5" cy="1434.5" rx="2.5" ry="4.2" transform="rotate(20 698.5 1434.5)" fill="#000" stroke="#000" stroke-width="2.6"/>
</svg>
</body></html>
